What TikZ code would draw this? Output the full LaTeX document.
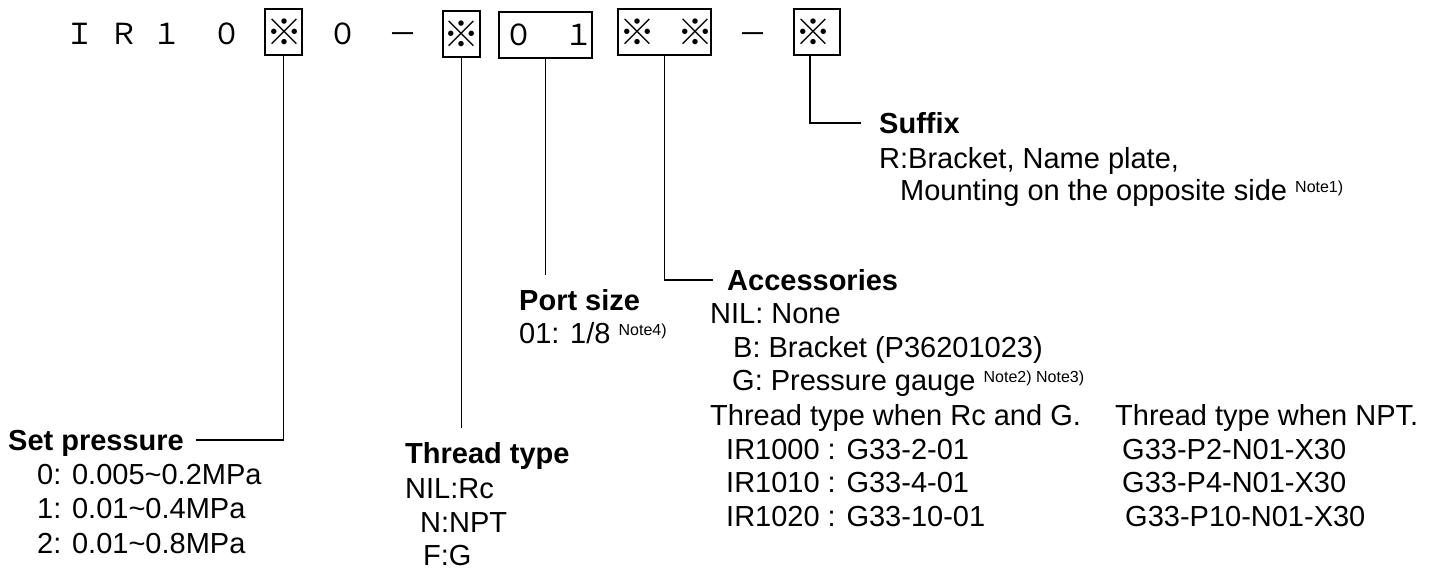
\documentclass[tikz,border=0pt]{standalone}
\usepackage{fontspec}
\setmainfont{Liberation Sans}
\newfontfamily\jpfont{Noto Sans CJK JP}
\newcommand\notesup[1]{\raisebox{8pt}{\fontsize{16}{16}\selectfont #1}}
\begin{document}
\begin{tikzpicture}[x=1pt,y=-1pt,
  txt/.style={anchor=base west, inner sep=0pt, font=\fontsize{29}{34}\selectfont},
  head/.style={anchor=base west, inner sep=0pt, font=\fontsize{29}{34}\selectfont\bfseries, text height=20pt, text depth=0pt},
  codebox/.style={draw, line width=1.6pt, inner sep=0pt},
  ch/.style={inner sep=0pt, font=\jpfont\fontsize{29}{29}\selectfont},
  refmark/.style={inner sep=0pt, font=\jpfont\fontsize{36}{36}\selectfont},
  conn/.style={line width=1.6pt}]
\useasboundingbox (0,0) rectangle (1436,570);

% code boxes
\node[codebox, minimum width=37pt, minimum height=46pt] (b1) at (283.5,32) {};
\node[codebox, minimum width=37pt, minimum height=46pt] (b2) at (461.5,34) {};
\node[codebox, minimum width=93pt, minimum height=46pt] (b3) at (545.5,35) {};
\node[codebox, minimum width=93pt, minimum height=46pt] (b4) at (664.5,32) {};
\node[codebox, minimum width=46pt, minimum height=46pt] (b5) at (817,32) {};

% code characters
\node[ch] (c1) at (80,34) {Ｉ};
\node[ch] (c2) at (124,34) {Ｒ};
\node[ch] (c3) at (167,34) {１};
\node[ch] (c4) at (227,34) {０};
\node[refmark] (c5) at (284,32) {※};
\node[ch] (c6) at (343,34) {０};
\node[ch] (c7) at (403,39) {－};
\node[refmark] (c8) at (461.5,34) {※};
\node[ch] (c9) at (519,35) {０};
\node[ch] (c10) at (579,35) {１};
\node[refmark] (c11) at (637,32) {※};
\node[refmark] (c12) at (695,32) {※};
\node[ch] (c13) at (753,39) {－};
\node[refmark] (c14) at (813,32) {※};

% Set pressure
\node[head] (setp) at (8,450) {Set pressure};
\node[txt] (sp0) at (37,484.5) {0: 0.005\textasciitilde0.2MPa};
\node[txt] (sp1) at (37,518.5) {1: 0.01\textasciitilde0.4MPa};
\node[txt] (sp2) at (37,553) {2: 0.01\textasciitilde0.8MPa};
\draw[conn] (b1.south) |- ([xshift=12pt]setp.east);

% Thread type
\node[head] (thr) at (405,463) {Thread type};
\node[txt] (thr0) at (405,498) {NIL:Rc};
\node[txt] (thr1) at (420,532) {N:NPT};
\node[txt] (thr2) at (423,565) {F:G};
\coordinate (thrend) at (463,428);
\draw[conn] (b2.south) -- (b2.south |- thrend);

% Port size
\node[head] (port) at (519,310) {Port size};
\node[txt] (port0) at (519,343) {01: 1/8 \notesup{Note4)}};
\coordinate (portend) at (545,275);
\draw[conn] (b3.south) -- (b3.south |- portend);

% Accessories
\node[head] (acc) at (727,290) {Accessories};
\node[txt] (acc0) at (710,323) {NIL: None};
\node[txt] (acc1) at (733,357) {B: Bracket (P36201023)};
\node[txt] (acc2) at (732,390) {G: Pressure gauge \notesup{Note2) Note3)}};
\node[txt] (acc3) at (710,425) {Thread type when Rc and G.};
\node[txt] (acc4) at (1115,425) {Thread type when NPT.};
\node[txt] (acc5) at (726,459) {IR1000 : G33-2-01};
\node[txt] (acc6) at (1122,459) {G33-P2-N01-X30};
\node[txt] (acc7) at (726,492) {IR1010 : G33-4-01};
\node[txt] (acc8) at (1122,492) {G33-P4-N01-X30};
\node[txt] (acc9) at (726,526) {IR1020 : G33-10-01};
\node[txt] (acc10) at (1125,526) {G33-P10-N01-X30};
\draw[conn] (b4.south) |- ([xshift=-14pt]acc.west);

% Suffix
\node[head] (suf) at (879,133) {Suffix};
\node[txt] (suf0) at (879,168) {R:Bracket, Name plate,};
\node[txt] (suf1) at (900,200) {Mounting on the opposite side \notesup{Note1)}};
\draw[conn] ([xshift=-7pt]b5.south) |- ([xshift=-18pt]suf.west);
\end{tikzpicture}
\end{document}
